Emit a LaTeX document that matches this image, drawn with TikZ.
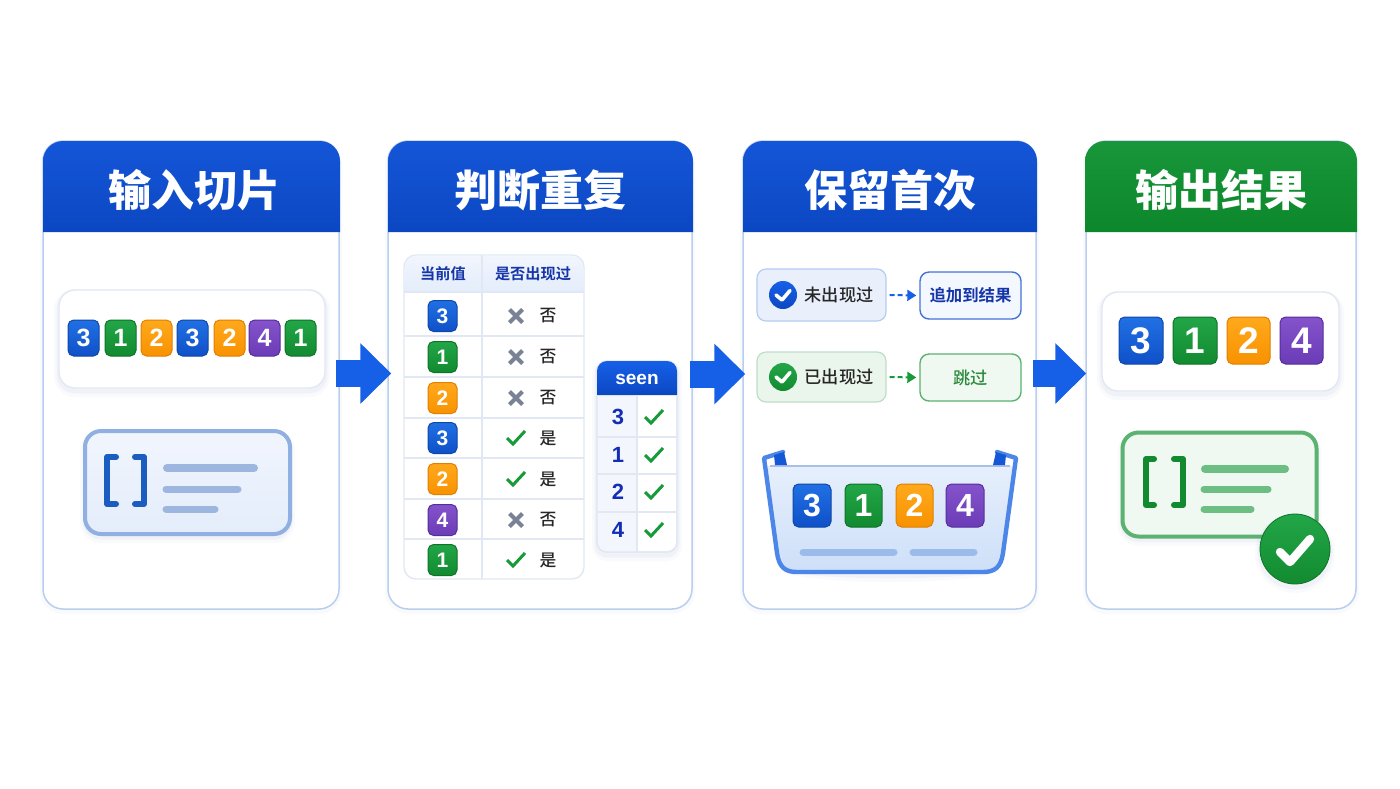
\documentclass[tikz,border=0pt]{standalone}
\usepackage{fontspec}
\setmainfont{Liberation Sans}
\newfontfamily\cjk{Noto Sans CJK SC}[BoldFont={Noto Sans CJK SC Bold}]
\newfontfamily\cjkmed{Noto Sans CJK SC Medium}
\newfontfamily\cjkheavy{Noto Sans CJK SC Black}
\usetikzlibrary{arrows.meta,calc}
\definecolor{bluetop}{HTML}{2170E4}\definecolor{bluebot}{HTML}{0F50C8}\definecolor{blueedge}{HTML}{0E48A8}
\definecolor{greentop}{HTML}{22A648}\definecolor{greenbot}{HTML}{128A30}\definecolor{greenedge}{HTML}{0E7429}
\definecolor{orangetop}{HTML}{FFA91C}\definecolor{orangebot}{HTML}{F89200}\definecolor{orangeedge}{HTML}{E27F00}
\definecolor{purpletop}{HTML}{8553CC}\definecolor{purplebot}{HTML}{6A3CB6}\definecolor{purpleedge}{HTML}{552D9C}
\definecolor{panelline}{HTML}{B9CEEE}
\definecolor{rowline}{HTML}{E1E8F4}
\definecolor{headtop}{HTML}{1456D8}\definecolor{headbot}{HTML}{0C47C2}
\definecolor{gheadtop}{HTML}{189639}\definecolor{gheadbot}{HTML}{0D872C}
\definecolor{arrowblue}{HTML}{1660E8}
\definecolor{navy}{HTML}{1636A8}
\definecolor{checkgreen}{HTML}{169A3A}
\definecolor{xgrey}{HTML}{7A8296}
\definecolor{shadowc}{HTML}{4A6FB0}
\definecolor{palebluetop}{HTML}{F1F5FD}
\definecolor{palebluebot}{HTML}{E4EDFB}
\definecolor{cardline}{HTML}{8FB0E0}
\definecolor{barblue}{HTML}{9DB6E0}
\definecolor{bracketblue}{HTML}{1A5CC0}
\definecolor{seencol}{HTML}{F3F7FD}
\definecolor{rulebline}{HTML}{B5CCF0}
\definecolor{rulebfill}{HTML}{E9F0FC}
\definecolor{rulegline}{HTML}{BFDCC8}
\definecolor{rulegfill}{HTML}{EAF5EC}
\definecolor{basktop}{HTML}{E6EFFC}
\definecolor{baskbot}{HTML}{CDDFF8}
\definecolor{baskrim}{HTML}{4C86E8}
\definecolor{baskbar}{HTML}{9CBBEA}
\definecolor{basktopline}{HTML}{A9BFE8}
\definecolor{skipgreen}{HTML}{2E8B3C}
\definecolor{addline}{HTML}{4472D8}
\definecolor{addfill}{HTML}{F3F7FE}
\definecolor{cardgreen}{HTML}{5CB270}
\definecolor{bargreen}{HTML}{6DBE82}
\definecolor{cardgfill}{HTML}{F0F8F2}
\tikzset{
  softshadow/.style={
    preaction={draw=shadowc,draw opacity=.03,line width=5pt,transform canvas={yshift=-2pt}},
    preaction={draw=shadowc,draw opacity=.05,line width=2.5pt,transform canvas={yshift=-1.5pt}}},
  panelbox/.style={draw=panelline,line width=.75pt,fill=white,rounded corners=10pt,inner sep=0pt,
    preaction={draw=shadowc,draw opacity=.03,line width=3pt,transform canvas={yshift=-1pt}}},
  whitebox/.style={draw=rowline,line width=.7pt,fill=white,rounded corners=8pt,inner sep=0pt,softshadow},
  listcard/.style={line width=2pt,rounded corners=8pt,inner sep=0pt,softshadow},
  tiletext/.style={inner sep=0pt,text=white},
  title/.style={text=white,font=\cjkheavy\fontsize{21.5}{24}\selectfont,inner sep=0pt},
  thead/.style={text=navy,font=\cjk\bfseries\fontsize{7.6}{9}\selectfont,inner sep=0pt},
  tcell/.style={text=black!85,font=\cjkmed\fontsize{8.4}{10}\selectfont,inner sep=0pt},
  seennum/.style={text=navy!85!blue,font=\bfseries\fontsize{11}{13}\selectfont,inner sep=0pt},
  rule/.style={rowline,line width=.7pt},
  bar/.style={line cap=round},
  bracketline/.style={line width=3pt,line join=round,line cap=round},
  bigarrow/.style={arrowblue,line width=13.5pt,-{Triangle[length=15.5pt,width=29.5pt]}},
  dashblue/.style={draw=arrowblue,line width=1pt,dash pattern=on 2.5pt off 1.5pt,-{Triangle[length=4.5pt,width=5.5pt]},shorten <=1.5pt,shorten >=1.5pt},
  dashgreen/.style={draw=checkgreen,line width=1pt,dash pattern=on 2.5pt off 1.5pt,-{Triangle[length=4.5pt,width=5.5pt]},shorten <=1.5pt,shorten >=1.5pt},
  ruleboxb/.style={draw=rulebline,line width=.6pt,rounded corners=4.5pt,fill=rulebfill,inner sep=0pt},
  ruleboxg/.style={draw=rulegline,line width=.6pt,rounded corners=4.5pt,fill=rulegfill,inner sep=0pt},
  ruletext/.style={text=black!85,font=\cjkmed\fontsize{8.6}{10}\selectfont,inner sep=0pt},
}
% name, cx, cy, w, h, colour, digit, font size
\newcommand\tile[8]{\node[tiletext,rounded corners=2.8pt,top color=#6top,bottom color=#6bot,draw=#6edge,line width=.5pt,
  minimum width=#4*0.5pt,minimum height=#5*0.5pt,font=\bfseries\fontsize{#8}{#8}\selectfont] (#1) at (#2,#3) {#7};}
\newcommand\xmk[2]{\draw[xgrey,line width=2pt] (#1-6.5,#2-6.5) -- (#1+6.5,#2+6.5) (#1-6.5,#2+6.5) -- (#1+6.5,#2-6.5);}
\newcommand\chk[2]{\draw[checkgreen,line width=1.5pt] (#1-9,#2) -- (#1-3,#2+6) -- (#1+9,#2-7);}
\newcommand\headband[5]{\shade[top color=#4,bottom color=#5] (#1,232) [rounded corners=10pt] -- (#1,#3) -- (#2,#3) [sharp corners] -- (#2,232) -- cycle;}
\begin{document}
\begin{tikzpicture}[x=.5pt,y=-.5pt]
\useasboundingbox (0,0) rectangle (1400,788);
\fill[white] (0,0) rectangle (1400,788);

% panels
\node[panelbox,minimum width=148pt,minimum height=234pt] (p1) at (191,375) {};
\node[panelbox,minimum width=152pt,minimum height=234pt] (p2) at (540,375) {};
\node[panelbox,minimum width=146.5pt,minimum height=234pt] (p3) at (889.5,375) {};
\node[panelbox,minimum width=135pt,minimum height=234pt] (p4) at (1221,375) {};
\headband{43}{340}{141}{headtop}{headbot}
\headband{388}{693}{141}{headtop}{headbot}
\headband{743}{1037}{141}{headtop}{headbot}
\headband{1085}{1357}{141}{gheadtop}{gheadbot}
\node[title] (t1) at (194,190) {输入切片};
\node[title] (t2) at (540,190) {判断重复};
\node[title] (t3) at (890,190) {保留首次};
\node[title] (t4) at (1221,190) {输出结果};

% panel 1
\node[whitebox,minimum width=133pt,minimum height=49pt] (inbox) at (192,339) {};
\tile{a1}{83.5}{338}{31}{36}{blue}{3}{12.5}
\tile{a2}{120.5}{338}{31}{36}{green}{1}{12.5}
\tile{a3}{156.5}{338}{31}{36}{orange}{2}{12.5}
\tile{a4}{192.5}{338}{31}{36}{blue}{3}{12.5}
\tile{a5}{229.5}{338}{31}{36}{orange}{2}{12.5}
\tile{a6}{264.5}{338}{31}{36}{purple}{4}{12.5}
\tile{a7}{300.5}{338}{31}{36}{green}{1}{12.5}
\node[listcard,draw=cardline,top color=palebluetop,bottom color=palebluebot,minimum width=102.5pt,minimum height=51.5pt] (c1) at (187.5,482.5) {};
\draw[bracketline,draw=bracketblue] (116,457) -- (107,457) -- (107,504) -- (116,504);
\draw[bracketline,draw=bracketblue] (135,457) -- (144,457) -- (144,504) -- (135,504);
\draw[bar,line width=4pt,draw=barblue] (167,468) -- (254,468);
\draw[bar,line width=3.5pt,draw=barblue] (166,489) -- (238,489);
\draw[bar,line width=3.5pt,draw=barblue] (166,509) -- (215,509);

% panel 2: table
\node[draw=rowline,line width=.7pt,fill=white,rounded corners=6pt,minimum width=90pt,minimum height=162pt,inner sep=0pt] (tb) at (494,417) {};
\shade[top color=palebluetop,bottom color=palebluebot] (404.5,292) [rounded corners=6pt] -- (404.5,255.5) -- (583.5,255.5) [sharp corners] -- (583.5,292) -- cycle;
\draw[rule] (404,292) -- (584,292) (404,336) -- (584,336) (404,377) -- (584,377) (404,418) -- (584,418) (404,458) -- (584,458) (404,499) -- (584,499) (404,539) -- (584,539) (482,255) -- (482,579);
\node[thead] (h1) at (443,274) {当前值};
\node[thead] (h2) at (533,274) {是否出现过};
\tile{b1}{442.5}{316}{29}{31}{blue}{3}{10.5}
\tile{b2}{442.5}{357}{29}{31}{green}{1}{10.5}
\tile{b3}{442.5}{398}{29}{31}{orange}{2}{10.5}
\tile{b4}{442.5}{438}{29}{31}{blue}{3}{10.5}
\tile{b5}{442.5}{479}{29}{31}{orange}{2}{10.5}
\tile{b6}{442.5}{520}{29}{31}{purple}{4}{10.5}
\tile{b7}{442.5}{560}{29}{31}{green}{1}{10.5}
\xmk{516}{316}\xmk{516}{357}\xmk{516}{398}\chk{516}{438}\chk{516}{479}\xmk{516}{520}\chk{516}{560}
\node[tcell] (r1) at (548,316) {否};
\node[tcell] (r2) at (548,357) {否};
\node[tcell] (r3) at (548,398) {否};
\node[tcell] (r4) at (548,438) {是};
\node[tcell] (r5) at (548,479) {是};
\node[tcell] (r6) at (548,520) {否};
\node[tcell] (r7) at (548,560) {是};

% seen table
\node[draw=rowline,line width=.7pt,fill=white,rounded corners=5pt,minimum width=40pt,minimum height=95.5pt,inner sep=0pt,softshadow] (sn) at (637,456.5) {};
\fill[seencol] (597.5,395) -- (637,395) -- (637,551.5) -- (605,551.5) -- (597.5,544) -- cycle;
\shade[top color=arrowblue,bottom color=headbot] (597,395) [rounded corners=5pt] -- (597,361) -- (677,361) [sharp corners] -- (677,395) -- cycle;
\draw[rule] (597,437) -- (677,437) (597,474) -- (677,474) (597,512) -- (677,512) (637,395) -- (637,552);
\draw[draw=rowline,line width=.7pt,rounded corners=5pt] (597,395) -- (597,552) -- (677,552) -- (677,395);
\node[text=white,font=\bfseries\fontsize{9.5}{11}\selectfont,inner sep=0pt] (sh) at (637,379) {seen};
\node[seennum] (s1) at (618,417) {3};
\node[seennum] (s2) at (618,455) {1};
\node[seennum] (s3) at (618,492) {2};
\node[seennum] (s4) at (618,530) {4};
\chk{654}{417}\chk{654}{455}\chk{654}{492}\chk{654}{530}

% panel 3
\node[ruleboxb,minimum width=64.5pt,minimum height=26pt] (q1) at (821.5,295) {};
\node[ruleboxg,minimum width=64.5pt,minimum height=25pt] (q2) at (821.5,377) {};
\node[ruletext] (q1t) at (839,295) {未出现过};
\node[ruletext] (q2t) at (839,377) {已出现过};
\node[circle,top color=arrowblue,bottom color=headbot,minimum size=14pt,inner sep=0pt] (ci1) at (783,295) {};
\node[circle,top color=greentop,bottom color=greenbot,minimum size=14pt,inner sep=0pt] (ci2) at (783,377) {};
\draw[white,line width=1.8pt,line join=round,line cap=round] (776,295) -- (782,300) -- (790,290.5);
\draw[white,line width=1.8pt,line join=round,line cap=round] (776,377) -- (782,382) -- (790,372.5);
\node[draw=addline,line width=.7pt,rounded corners=4.5pt,fill=addfill,minimum width=50.5pt,minimum height=23.5pt,inner sep=0pt,text=navy,font=\cjk\bfseries\fontsize{8.2}{10}\selectfont] (d1) at (970.5,295.5) {追加到结果};
\node[draw=cardgreen,line width=.7pt,rounded corners=4.5pt,fill=cardgfill,minimum width=50.5pt,minimum height=23.5pt,inner sep=0pt,text=skipgreen,font=\cjkmed\fontsize{8.6}{10}\selectfont] (d2) at (970.5,377.5) {跳过};
\draw[dashblue] (q1.east) -- (d1.west);
\draw[dashgreen] (q2.east) -- (d2.west);

% basket
\fill[shadowc,opacity=.03] (780,570) .. controls (800,586) and (980,586) .. (1000,570) -- cycle;
\fill[shadowc,opacity=.05] (785,570) .. controls (805,581) and (975,581) .. (995,570) -- cycle;
\shade[top color=basktop,bottom color=baskbot] (767,466) -- (1013,466) -- (1003,553) .. controls (1001,567) and (995,573) .. (983,573) -- (797,573) .. controls (785,573) and (779,567) .. (777,553) -- cycle;
\draw[draw=basktopline,line width=.9pt] (770,466) -- (1010,466);
\draw[draw=baskrim,line width=2.2pt,line join=round,line cap=round] (783,452) -- (764,458) -- (777,553) .. controls (779,567) and (785,572) .. (797,572) -- (983,572) .. controls (995,572) and (1001,567) .. (1003,553) -- (1016,458) -- (997,452);
\fill[arrowblue!92!black] (774,455) -- (784,452) -- (787,465) -- (775,465) -- cycle;
\fill[arrowblue!92!black] (1006,455) -- (996,452) -- (993,465) -- (1005,465) -- cycle;
\tile{k1}{812}{505.5}{38}{43}{blue}{3}{16}
\tile{k2}{863.5}{505.5}{37}{43}{green}{1}{16}
\tile{k3}{914.5}{505.5}{37}{43}{orange}{2}{16}
\tile{k4}{965}{505.5}{38}{43}{purple}{4}{16}
\draw[bar,line width=3.5pt,draw=baskbar] (803,552) -- (894,552);
\draw[bar,line width=3.5pt,draw=baskbar] (913,552) -- (974,552);

% panel 4
\node[whitebox,minimum width=118.5pt,minimum height=49.5pt] (outbox) at (1220.5,341.5) {};
\tile{e1}{1141}{340.5}{44}{47}{blue}{3}{18.5}
\tile{e2}{1195}{340.5}{44}{47}{green}{1}{18.5}
\tile{e3}{1248.5}{340.5}{43}{47}{orange}{2}{18.5}
\tile{e4}{1301.5}{340.5}{43}{47}{purple}{4}{18.5}
\node[listcard,draw=cardgreen,fill=cardgfill,minimum width=97pt,minimum height=52pt] (c2) at (1219.5,484.5) {};
\draw[bracketline,draw=greenbot] (1154,459) -- (1146,459) -- (1146,505) -- (1154,505);
\draw[bracketline,draw=greenbot] (1174,459) -- (1183,459) -- (1183,505) -- (1174,505);
\draw[bar,line width=4pt,draw=bargreen] (1205,469) -- (1285,469);
\draw[bar,line width=3.5pt,draw=bargreen] (1204,489) -- (1268,489);
\draw[bar,line width=3.5pt,draw=bargreen] (1204,509) -- (1251,509);
\node[circle,top color=greentop,bottom color=greenbot,draw=greenedge,line width=.4pt,minimum size=35pt,inner sep=0pt,softshadow] (ok) at (1295,549) {};
\draw[white,line width=4.2pt,line join=round,line cap=round] (1280,552) -- (1290,562) -- (1310,539);

% block arrows between panels
\draw[bigarrow,shorten <=-2pt,shorten >=-2pt] ([yshift=.75pt]p1.east) -- ([yshift=.75pt]p2.west);
\draw[bigarrow,shorten <=-1.5pt,shorten >=-1.5pt] ([yshift=.5pt]p2.east) -- ([yshift=.5pt]p3.west);
\draw[bigarrow,shorten <=-2pt,shorten >=-.5pt] ([yshift=.75pt]p3.east) -- ([yshift=.75pt]p4.west);
\end{tikzpicture}
\end{document}
